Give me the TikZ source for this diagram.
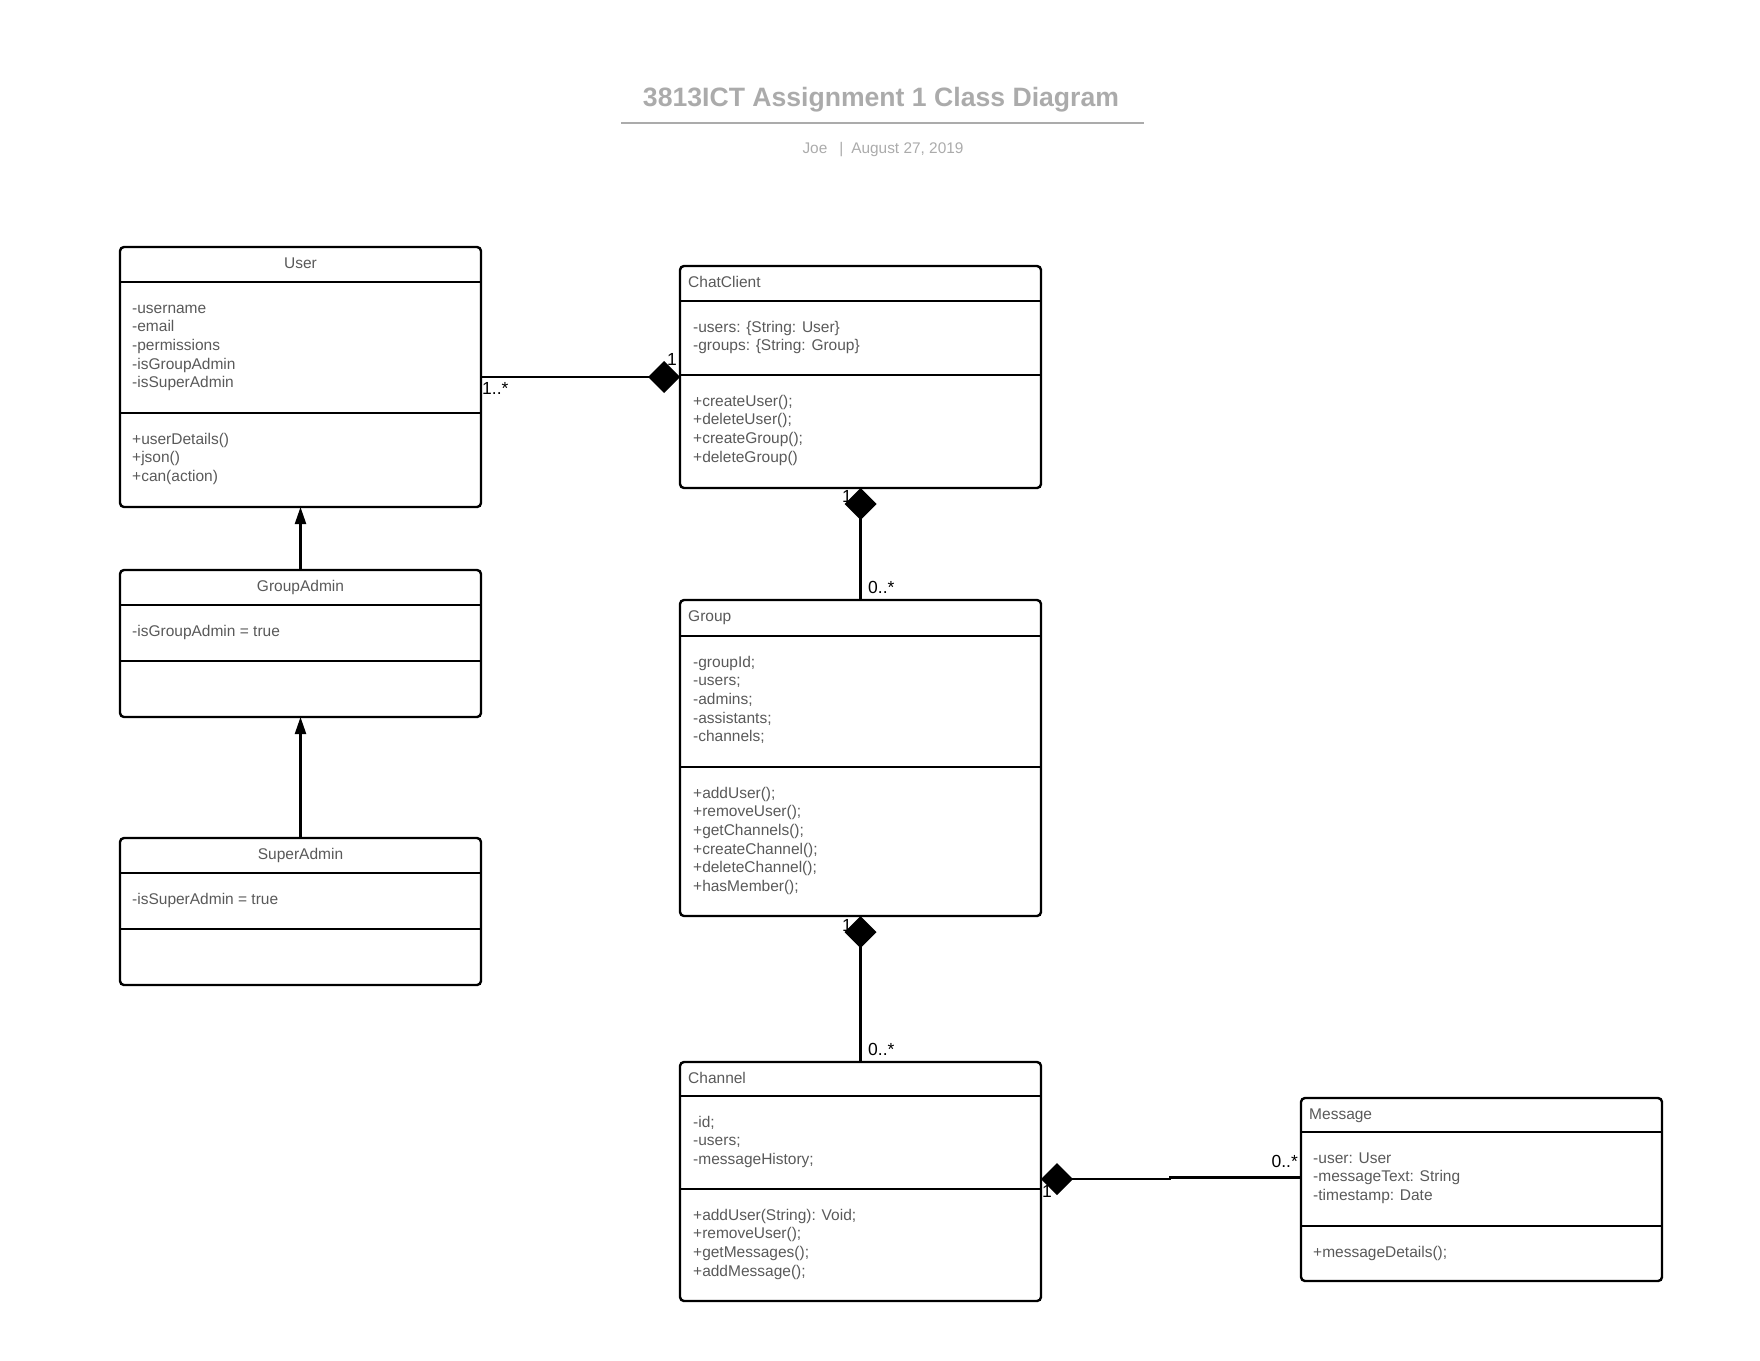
\documentclass[tikz,border=0pt]{standalone}
\usepackage{fontspec}
\setmainfont{Liberation Sans}
\usepackage{xcolor}
\usetikzlibrary{arrows.meta}

\definecolor{textgray}{HTML}{595959}
\definecolor{titlegray}{HTML}{ABABAB}

\tikzset{
  classframe/.style={draw, line width=2.4pt, rounded corners=4pt, inner sep=0pt, outer sep=0pt},
  classline/.style={line width=2.4pt},
  classname/.style={text=textgray, font=\fontsize{15.5}{18.7}\selectfont, inner sep=0pt},
  members/.style={text=textgray, font=\fontsize{15.5}{18.7}\selectfont, align=left, inner sep=0pt, anchor=base west},
  mult/.style={font=\fontsize{17.5}{20}\selectfont, inner sep=0pt},
  composition/.style={line width=2.2pt, {Diamond[length=32pt, width=32pt]}-},
  inherits/.style={line width=2.2pt, -{Triangle[length=17pt, width=11pt]}},
}

\begin{document}
\begin{tikzpicture}[x=1pt, y=-1pt]
\useasboundingbox (0,0) rectangle (1760,1360);

% Title and subtitle
\node[text=titlegray, font=\bfseries\fontsize{26.6}{30}\selectfont, inner sep=0pt, anchor=base] (title) at (881,106) {3813ICT Assignment 1 Class Diagram};
\draw[titlegray, line width=2pt] (621,123) -- (1144,123);
\node[text=titlegray, font=\fontsize{15.4}{18}\selectfont, inner sep=0pt, anchor=base] (subtitle) at (883,153) {Joe\hspace{12pt}|\hspace{8pt}August 27, 2019};

% Class User (member nodes sit on the baseline of their last line)
\node[classframe, minimum width=361pt, minimum height=260pt] (user) at (300.5,377) {};
\draw[classline] (user.west |- 0,282) -- (user.east |- 0,282);
\draw[classline] (user.west |- 0,413) -- (user.east |- 0,413);
\node[classname, anchor=base] (username) at (300.5,268) {User};
\node[members] (userattr) at (132,387.8) {-username\\-email\\-permissions\\-isGroupAdmin\\-isSuperAdmin};
\node[members] (usermeth) at (132,481.4) {+userDetails()\\+json()\\+can(action)};

% Class GroupAdmin
\node[classframe, minimum width=361pt, minimum height=147pt] (groupadmin) at (300.5,643.5) {};
\draw[classline] (groupadmin.west |- 0,605) -- (groupadmin.east |- 0,605);
\draw[classline] (groupadmin.west |- 0,661) -- (groupadmin.east |- 0,661);
\node[classname, anchor=base] (groupadminname) at (300.5,591) {GroupAdmin};
\node[members] (groupadminattr) at (132,636) {-isGroupAdmin = true};

% Class SuperAdmin
\node[classframe, minimum width=361pt, minimum height=147pt] (superadmin) at (300.5,911.5) {};
\draw[classline] (superadmin.west |- 0,873) -- (superadmin.east |- 0,873);
\draw[classline] (superadmin.west |- 0,929) -- (superadmin.east |- 0,929);
\node[classname, anchor=base] (superadminname) at (300.5,859) {SuperAdmin};
\node[members] (superadminattr) at (132,904) {-isSuperAdmin = true};

% Class ChatClient
\node[classframe, minimum width=361pt, minimum height=222pt] (chatclient) at (860.5,377) {};
\draw[classline] (chatclient.west |- 0,301) -- (chatclient.east |- 0,301);
\draw[classline] (chatclient.west |- 0,375) -- (chatclient.east |- 0,375);
\node[classname, anchor=base west] (chatclientname) at (688,287) {ChatClient};
\node[members] (chatclientattr) at (693,350.7) {-users: \{String: User\}\\-groups: \{String: Group\}};
\node[members] (chatclientmeth) at (693,462.1) {+createUser();\\+deleteUser();\\+createGroup();\\+deleteGroup()};

% Class Group
\node[classframe, minimum width=361pt, minimum height=316pt] (group) at (860.5,758) {};
\draw[classline] (group.west |- 0,636) -- (group.east |- 0,636);
\draw[classline] (group.west |- 0,767) -- (group.east |- 0,767);
\node[classname, anchor=base west] (groupname) at (688,621) {Group};
\node[members] (groupattr) at (693,741.8) {-groupId;\\-users;\\-admins;\\-assistants;\\-channels;};
\node[members] (groupmeth) at (693,891.5) {+addUser();\\+removeUser();\\+getChannels();\\+createChannel();\\+deleteChannel();\\+hasMember();};

% Class Channel
\node[classframe, minimum width=361pt, minimum height=239pt] (channel) at (860.5,1181.5) {};
\draw[classline] (channel.west |- 0,1096) -- (channel.east |- 0,1096);
\draw[classline] (channel.west |- 0,1189) -- (channel.east |- 0,1189);
\node[classname, anchor=base west] (channelname) at (688,1083) {Channel};
\node[members] (channelattr) at (693,1164.4) {-id;\\-users;\\-messageHistory;};
\node[members] (channelmeth) at (693,1276.1) {+addUser(String): Void;\\+removeUser();\\+getMessages();\\+addMessage();};

% Class Message
\node[classframe, minimum width=361pt, minimum height=183pt] (message) at (1481.5,1189.5) {};
\draw[classline] (message.west |- 0,1132) -- (message.east |- 0,1132);
\draw[classline] (message.west |- 0,1226) -- (message.east |- 0,1226);
\node[classname, anchor=base west] (messagename) at (1309,1119) {Message};
\node[members] (messageattr) at (1313,1200.4) {-user: User\\-messageText: String\\-timestamp: Date};
\node[members] (messagemeth) at (1313,1257) {+messageDetails();};

% Inheritance
\draw[inherits] (groupadmin) -- (user);
\draw[inherits] (superadmin) -- (groupadmin);

% Compositions
\draw[composition] (chatclient) -- (user);
\draw[composition] (chatclient) -- (group);
\draw[composition] (group) -- (channel);
\coordinate (jog) at (1170,1179);
\draw[composition] (channel.east |- 0,1179) -- (jog) -- (jog |- 0,1177.5) -- (message.west |- 0,1177.5);

% Multiplicities
\node[mult, anchor=base east] (ccuser) at (677,365) {1};
\node[mult, anchor=base west] (userscc) at (482,394) {1..*};
\node[mult, anchor=base west] (ccgroup) at (842,502) {1};
\node[mult, anchor=base west] (groupscc) at (868,593) {0..*};
\node[mult, anchor=base west] (groupchannel) at (842,931) {1};
\node[mult, anchor=base west] (channelsgroup) at (868,1055) {0..*};
\node[mult, anchor=base west] (channelmessage) at (1042,1197) {1};
\node[mult, anchor=base east] (messageschannel) at (1298,1167) {0..*};

\end{tikzpicture}
\end{document}
